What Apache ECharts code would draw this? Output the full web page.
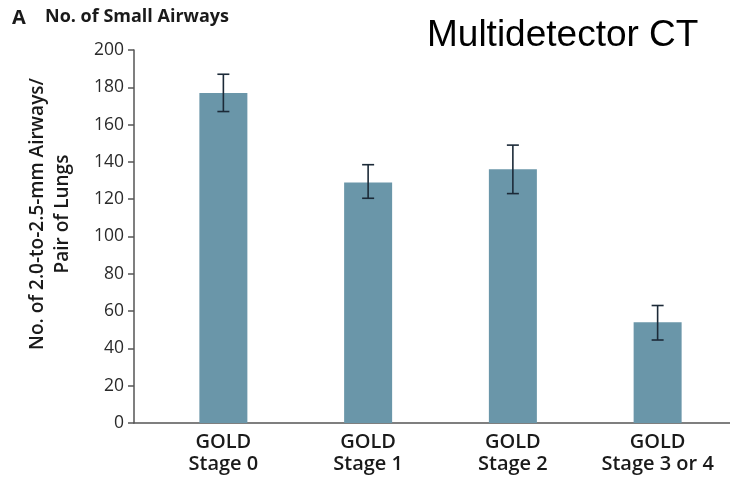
<!DOCTYPE html>
<html>
<head>
<meta charset="utf-8">
<script src="https://cdn.jsdelivr.net/npm/echarts@6/dist/echarts.min.js"></script>
<style>
html,body{margin:0;padding:0;background:#fff;}
#chart{width:730px;height:482px;}
</style>
</head>
<body>
<div id="chart"></div>
<script>
const categories = ['GOLD\nStage 0', 'GOLD\nStage 1', 'GOLD\nStage 2', 'GOLD\nStage 3 or 4'];
const means = [177, 129, 136, 54];
const errLow = [167, 120.5, 123, 44.5];
const errHigh = [187, 138.5, 149, 63];
const yTicks = [0, 20, 40, 60, 80, 100, 120, 140, 160, 180, 200];

const FONT = '"Open Sans", "Noto Sans", sans-serif';
const chart = echarts.init(document.getElementById('chart'), null, {renderer: 'canvas'});

const errData = categories.map((c, i) => [i, errLow[i], errHigh[i]]);

chart.setOption({
  animation: false,
  backgroundColor: '#ffffff',
  grid: [
    {left: 134, right: 0, top: 50, bottom: 59},
    {left: 151, width: 587, top: 50, bottom: 59}
  ],
  xAxis: [
    {gridIndex: 0, type: 'category', data: categories,
     axisLine: {show: true, lineStyle: {color: '#555', width: 1.5}},
     axisTick: {show: false}, axisLabel: {show: false}},
    {gridIndex: 1, type: 'category', data: categories,
     axisLine: {show: false}, axisTick: {show: false},
     axisLabel: {show: true, margin: 8, fontFamily: FONT, fontSize: 20, fontWeight: 600,
                 color: '#1a1a1a', lineHeight: 22, interval: 0}}
  ],
  yAxis: [
    {gridIndex: 0, type: 'value', min: yTicks[0], max: yTicks[yTicks.length - 1], interval: 20,
     axisLine: {show: true, lineStyle: {color: '#555', width: 1.5}},
     axisTick: {show: true, inside: false, length: 6, lineStyle: {color: '#555', width: 1.5}},
     axisLabel: {show: true, margin: 10, fontFamily: FONT, fontSize: 17.5, color: '#2a2a2a'},
     splitLine: {show: false}},
    {gridIndex: 1, type: 'value', min: yTicks[0], max: yTicks[yTicks.length - 1], interval: 20,
     show: false, splitLine: {show: false}}
  ],
  graphic: [
    {type: 'text', left: 12, top: 8,
     style: {text: 'A', font: '700 20px ' + FONT, fill: '#1a1a1a'}},
    {type: 'text', left: 45, top: 8,
     style: {text: 'No. of Small Airways', font: '700 18px ' + FONT, fill: '#1a1a1a'}},
    {type: 'text', left: 427, top: 17,
     style: {text: 'Multidetector CT', font: '37px "Liberation Sans", Arial, sans-serif', fill: '#000'}},
    {type: 'text', x: 50, y: 214, rotation: Math.PI / 2,
     style: {text: 'No. of 2.0-to-2.5-mm Airways/\nPair of Lungs', font: '600 19px ' + FONT,
             fill: '#1a1a1a', align: 'center', verticalAlign: 'middle', lineHeight: 25}}
  ],
  series: [
    {type: 'bar', xAxisIndex: 1, yAxisIndex: 1, data: means, barWidth: 48,
     itemStyle: {color: '#6a96a9'}},
    {type: 'custom', xAxisIndex: 1, yAxisIndex: 1, data: errData, z: 10,
     renderItem: function (params, api) {
       const x = api.value(0);
       const lo = api.coord([x, api.value(1)]);
       const hi = api.coord([x, api.value(2)]);
       const hw = 6;
       const st = {stroke: '#1c2a38', lineWidth: 1.6};
       return {type: 'group', children: [
         {type: 'line', shape: {x1: lo[0], y1: lo[1], x2: hi[0], y2: hi[1]}, style: st},
         {type: 'line', shape: {x1: hi[0] - hw, y1: hi[1], x2: hi[0] + hw, y2: hi[1]}, style: st},
         {type: 'line', shape: {x1: lo[0] - hw, y1: lo[1], x2: lo[0] + hw, y2: lo[1]}, style: st}
       ]};
     }}
  ]
});
</script>
</body>
</html>
